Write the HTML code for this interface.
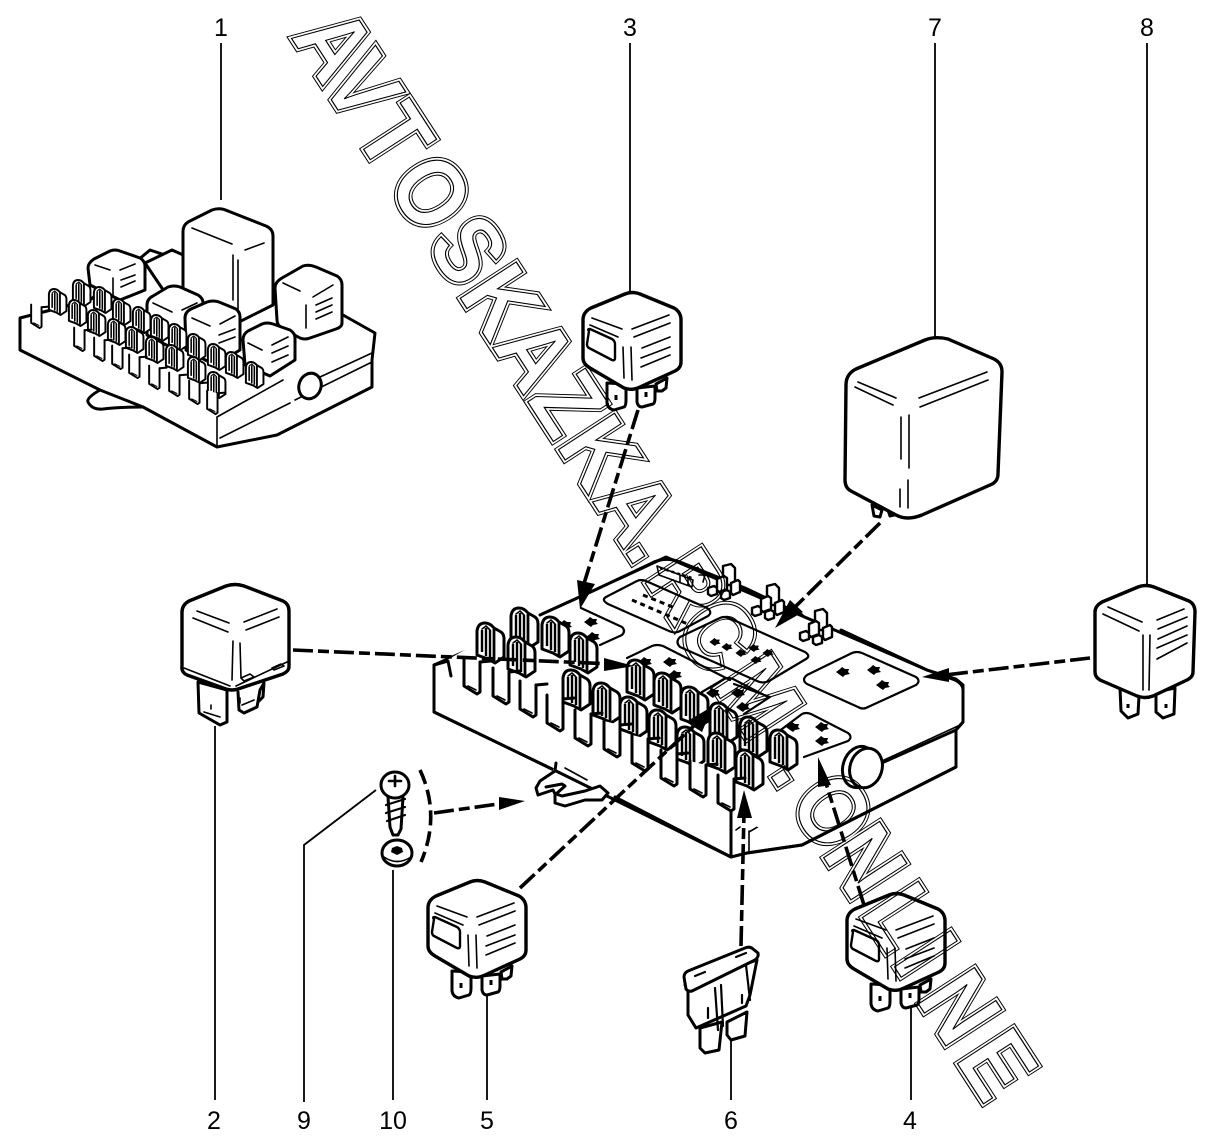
<!DOCTYPE html>
<html><head><meta charset="utf-8"><title>Fuse and relay box</title>
<style>
html,body{margin:0;padding:0;background:#fff}
svg{display:block}
text{font-family:"Liberation Sans",sans-serif}
.o{fill:#fff;stroke:#000;stroke-width:3;stroke-linejoin:round;stroke-linecap:round}
.n{fill:none;stroke:#000;stroke-width:3;stroke-linejoin:round;stroke-linecap:round}
.t{fill:none;stroke:#000;stroke-width:1.6;stroke-linecap:round;stroke-linejoin:round}
.l{fill:none;stroke:#000;stroke-width:1.8}
.d{fill:none;stroke:#000;stroke-width:3.6;stroke-dasharray:20 5 11 5}
.lab{font-size:25px;text-anchor:middle;fill:#000}
.wm{font-size:97px;font-weight:bold;fill:none;stroke-linejoin:miter;stroke-miterlimit:3}
</style></head><body>
<svg width="1215" height="1146" viewBox="0 0 1215 1146" xmlns="http://www.w3.org/2000/svg">
<defs>
<g id="clip">
<path class="o" d="M-14,12V-12Q-13,-20 -6,-20Q-1,-20 3,-15L10,-11Q13,-9 13,-4V14L4,20L-3,16Z"/>
<path fill="none" stroke="#000" stroke-width="2.4" d="M-9,-13V9M-5,-15V13M-1,-13V15"/>
<path fill="none" stroke="#000" stroke-width="2.8" d="M3,-14V18"/>
<path class="t" d="M-9,-14L-5,-17L-1,-13"/>
</g>
<g id="slot">
<path class="o" d="M-9,-19V9L4,17L7,15V-15"/>
<path class="n" d="M7,-15L18,-16"/>
<path class="t" d="M-5,9L3,13"/>
</g>
<g id="star"><path d="M-7,0L-3,-3L-1,-5L2,-3L6,-3L5,0L7,2L2,3L0,5L-3,3Z" fill="#000"/></g>
<g id="rel">
<path class="o" d="M607,383L607,403Q608,409 614,410L624,407Q626,406 626,400V384ZM637,388V402Q638,407 642,407L653,404Q655,403 655,398V386ZM656,384L657,391L662,391L666,388L667,378Z"/>
<path class="o" style="stroke-width:3.4" d="M583,320Q583,312 591,308L625,294Q632,291 640,294L674,308Q681,312 681,320L681,362Q681,368 675,371L640,387Q632,391 624,388L590,368Q583,364 583,358Z"/>
<path class="n" style="stroke-width:2.4" d="M589,331Q587,329 590,329L612,339Q615,341 615,344L615,358Q615,361 612,360L589,348Q587,347 587,344Z"/>
<path class="t" d="M592,318L622,329M590,325L618,337M632,329L669,315M634,337L670,323M642,348L670,337M641,358L670,347M641,367L670,355M631,347L632,380M623,347L624,378"/>
<path d="M616,395v5M646,392v5" stroke="#000" stroke-width="3"/>
</g>
<mask id="wmring" maskUnits="userSpaceOnUse" x="0" y="0" width="1215" height="1146">
<rect x="0" y="0" width="1215" height="1146" fill="#000"/>
<g transform="translate(288,33) rotate(57) scale(.88,1)">
<text class="wm" stroke="#fff" stroke-width="7" x="5 65 135 203 286 353 424 497 558 633 699 739 805 883 1002 1041 1111 1192 1259 1309 1390" y="0">AVTOSKAZKA.RCM.ONLINE</text>
<text class="wm" style="fill:#000" stroke="#000" stroke-width="5" x="5 65 135 203 286 353 424 497 558 633 699 739 805 883 1002 1041 1111 1192 1259 1309 1390" y="0">AVTOSKAZKA.RCM.ONLINE</text>
</g>
</mask>
</defs>
<rect width="1215" height="1146" fill="#fff"/>

<!-- leader lines -->
<path class="l" d="M221,43V200M630,43V291M935,43V338M1147,43V584M215,726V1100M304,1102V845L376,790M393,870V1100M487,996V1100M731,1040V1100M911,1008V1100"/>

<!-- assembly 1 -->
<path class="o" d="M20,318L20,350L100,390L143,407L217,447L277,435L372,387L372,360L375,333L343,315L150,250L90,300Z"/>
<path class="t" d="M217,417L217,445M217,417L283,380M320,377L372,353M220,438L290,403M372,362L295,400"/>
<path class="n" d="M100,390Q86,398 88,402Q92,410 103,409Q120,407 143,407"/>
<path class="o" d="M145,263L172,250L190,258L190,290L170,300Z"/>
<path class="o" d="M183,232Q183,224 190,221L212,210Q220,207 228,211L266,226Q273,229 273,236V305L233,325L183,300Z"/>
<path class="t" d="M192,228L232,244M245,250L264,243M238,260V315M233,255V300"/>
<path class="o" d="M275,288Q275,282 282,278L303,266Q309,264 316,267L337,276Q342,279 342,285V323Q342,327 336,329L310,338Q305,340 300,338L282,328Q277,325 277,320Z"/>
<path class="t" d="M283,283L300,291M313,297L333,285M316,305L332,298M316,312L332,305M316,319L332,312M306,305V328"/>
<path class="o" d="M88,268Q88,263 94,259L110,251Q115,249 120,251L140,258Q145,261 145,266V290L120,300L90,285Z"/>
<path class="t" d="M95,265L110,270M120,270L135,264M121,280L135,275M121,287L135,281M113,278V295"/>
<path class="o" d="M147,305Q147,299 153,296L168,287Q174,285 180,287L198,295Q203,298 203,303V340L176,350L147,335Z"/>
<path class="t" d="M153,303L172,312M182,310L197,303"/>
<path class="o" d="M185,318Q185,312 191,309L207,302Q213,300 219,302L236,309Q240,312 240,317V350L215,365L186,350Z"/>
<path class="t" d="M192,318L210,326M220,324L235,316M219,335L235,329M219,343L235,337"/>
<path class="o" d="M243,340Q243,334 248,331L262,324Q267,322 273,324L290,330Q295,333 295,338V360L270,376L245,365Z"/>
<path class="t" d="M248,343L262,350M272,345L288,337M272,353L288,346M272,362L288,355"/>
<g transform="translate(82,293) scale(.65)"><use href="#clip"/></g>
<g transform="translate(103,300) scale(.65)"><use href="#clip"/></g>
<g transform="translate(122,312) scale(.65)"><use href="#clip"/></g>
<g transform="translate(142,320) scale(.65)"><use href="#clip"/></g>
<g transform="translate(160,328) scale(.65)"><use href="#clip"/></g>
<g transform="translate(178,337) scale(.65)"><use href="#clip"/></g>
<g transform="translate(197,347) scale(.65)"><use href="#clip"/></g>
<g transform="translate(217,357) scale(.65)"><use href="#clip"/></g>
<g transform="translate(235,365) scale(.65)"><use href="#clip"/></g>
<g transform="translate(255,375) scale(.65)"><use href="#clip"/></g>
<g transform="translate(58,302) scale(.65)"><use href="#clip"/></g>
<g transform="translate(78,313) scale(.65)"><use href="#clip"/></g>
<g transform="translate(97,323) scale(.65)"><use href="#clip"/></g>
<g transform="translate(117,332) scale(.65)"><use href="#clip"/></g>
<g transform="translate(135,340) scale(.65)"><use href="#clip"/></g>
<g transform="translate(155,350) scale(.65)"><use href="#clip"/></g>
<g transform="translate(175,358) scale(.65)"><use href="#clip"/></g>
<g transform="translate(197,370) scale(.65)"><use href="#clip"/></g>
<g transform="translate(217,385) scale(.65)"><use href="#clip"/></g>
<g transform="translate(37,317) scale(.65)"><use href="#slot"/></g>
<g transform="translate(80,340) scale(.65)"><use href="#slot"/></g>
<g transform="translate(100,350) scale(.65)"><use href="#slot"/></g>
<g transform="translate(118,358) scale(.65)"><use href="#slot"/></g>
<g transform="translate(135,367) scale(.65)"><use href="#slot"/></g>
<g transform="translate(155,378) scale(.65)"><use href="#slot"/></g>
<g transform="translate(175,385) scale(.65)"><use href="#slot"/></g>
<g transform="translate(195,393) scale(.65)"><use href="#slot"/></g>
<g transform="translate(213,403) scale(.65)"><use href="#slot"/></g>
<ellipse class="o" cx="310" cy="386" rx="11" ry="13" transform="rotate(20 310 386)"/>

<!-- relays -->
<use href="#rel"/>
<use href="#rel" transform="translate(-155,588)"/>
<use href="#rel" transform="translate(264,601)"/>

<!-- relay 7 -->
<path class="o" d="M872,505L874,516L880,517L882,510ZM888,510L890,516L894,515Z"/>
<path class="o" style="stroke-width:3.4" d="M846,385Q846,374 856,369L925,340Q935,336 948,339L994,359Q1002,363 1002,372L998,474Q998,482 990,485L922,515Q907,521 896,515L851,491Q845,488 845,480Z"/>
<path class="t" d="M858,382L896,398M855,387L893,405M919,398L987,372M920,407L988,380M901,417V459M909,415V468M900,489V507M908,480V508"/>

<!-- relay 8 -->
<path class="o" d="M1120,688L1121,711L1128,718L1138,714L1139,696ZM1156,692L1156,712L1163,718L1174,714L1175,688Z"/>
<path d="M1128,704v4M1166,704v4" stroke="#000" stroke-width="3"/>
<path class="o" style="stroke-width:3.4" d="M1095,612Q1095,606 1102,602L1138,587Q1146,584 1154,587L1189,601Q1195,604 1195,612L1193,672Q1193,677 1187,680L1153,696Q1145,699 1137,696L1100,680Q1095,677 1095,672Z"/>
<path class="t" d="M1108,607L1142,622M1103,614L1139,631M1157,620L1184,609M1158,629L1187,617M1158,639L1187,626M1157,648L1187,635M1157,659L1187,643M1143,635V690M1150,635L1149,690"/>

<!-- relay 2 -->
<path class="o" d="M198,682L199,713L220,725L227,722L227,690ZM238,692L239,710L244,713L257,707L260,690L264,683L263,697L258,702"/>
<path class="t" d="M204,712L220,717M211,705v4M240,698v5M242,705L254,700"/>
<path class="o" style="stroke-width:3.4" d="M182,612Q182,605 189,601L226,586Q235,583 244,586L283,601Q289,604 289,611V667Q289,671 283,674L238,689Q232,691 226,689L187,675Q181,672 182,666Z"/>
<path class="t" d="M184,668L230,686M236,686L287,662M197,611L229,623M193,618L228,632M244,622L277,609M246,630L279,617M233,641L232,680M240,643L241,678"/>
<path class="t" d="M244,681L254,677L250,674L241,678ZM274,670L284,666L281,664L272,668Z"/>

<!-- main box -->
<path class="o" d="M434,665V712L554,770L731,857L747,853L802,845L956,767V730L963,722V685L956,679L927,670L666,557L595,590L540,615L480,645Z"/>
<path class="t" d="M958,726L884,760M845,776L749,832M731,797V857M748,806V812M749,831V852M736,830L740,827"/>
<path class="o" style="stroke:none" d="M440,664L500,630L666,561L925,672L957,683L958,720L884,755L760,828L730,815Z"/>
<path class="n" d="M540,615L595,590L650,564Q664,556 680,562L745,588M745,588L802,615M841,630L927,670L955,680Q963,684 963,690V722L956,730V767L802,845L747,853M434,665V712L554,770M615,797L731,857V800M434,665L448,661L451,676M956,730L884,762"/>

<!-- pads -->
<path class="t" style="stroke-width:2.2" d="M606,597L637,581Q641,579 646,581L707,608Q713,612 708,616L680,631Q675,634 669,631L608,604Q601,600 606,597ZM680,637L720,618Q724,616 729,618L805,652Q811,656 806,659L769,681Q763,684 757,681L680,647Q675,642 680,637ZM807,675L852,653Q857,651 862,653L916,677Q921,681 916,685L868,707Q863,710 858,707L807,684Q801,680 807,675ZM581,608L622,627Q626,631 622,635L600,645M627,658L652,646Q657,644 663,646L730,680M734,684L770,697L744,714M702,692L724,679Q728,677 733,679L768,697M778,732L802,714Q806,712 811,714L848,733Q853,737 848,741L804,757"/>
<g transform="translate(843,672)"><use href="#star"/></g><g transform="translate(874,670)"><use href="#star"/></g><g transform="translate(883,685)"><use href="#star"/></g>
<g transform="translate(565,625)"><use href="#star"/></g><g transform="translate(591,622)"><use href="#star"/></g><g transform="translate(593,637)"><use href="#star"/></g>
<g transform="translate(645,662)"><use href="#star"/></g><g transform="translate(670,662)"><use href="#star"/></g><g transform="translate(675,675)"><use href="#star"/></g>
<g transform="translate(713,693)"><use href="#star"/></g><g transform="translate(738,693)"><use href="#star"/></g><g transform="translate(743,707)"><use href="#star"/></g>
<g transform="translate(793,727)"><use href="#star"/></g><g transform="translate(822,727)"><use href="#star"/></g><g transform="translate(822,741)"><use href="#star"/></g>
<g transform="translate(715,642) scale(.8)"><use href="#star"/></g><g transform="translate(727,647) scale(.8)"><use href="#star"/></g><g transform="translate(741,653) scale(.8)"><use href="#star"/></g><g transform="translate(754,648) scale(.8)"><use href="#star"/></g><g transform="translate(756,660) scale(.8)"><use href="#star"/></g><g transform="translate(768,653) scale(.8)"><use href="#star"/></g>
<path fill="none" stroke="#000" stroke-width="3" stroke-dasharray="5 4" d="M632,600L690,625M643,595L675,608"/>
<!-- back connector -->
<path class="t" style="stroke-width:1.6" d="M657,566L693,580L692,587L659,575ZM680,575L680,582M688,578L688,585M699,575H705L703,582"/>
<path fill="none" stroke="#000" stroke-width="2.4" stroke-dasharray="3 3" d="M660,568L692,578"/>

<!-- terminal clusters -->
<g id="tc" transform="translate(729,583)">
<path class="o" style="stroke-width:2.4" d="M-6,-17L2,-19L6,-15V2L-6,2Z"/>
<path class="o" style="stroke-width:2.4" d="M-12,-4L-5,-7L-2,-5V6L-10,9L-12,7ZM2,0L9,-3L11,-1V9L4,12L2,10ZM-21,5L-15,3L-12,5V11L-18,13L-21,11ZM-8,9L-2,7L1,9V15L-5,17L-8,15Z"/>
</g>
<use href="#tc" transform="translate(44,20)"/>
<use href="#tc" transform="translate(92,45)"/>

<!-- clips back row -->
<use href="#clip" x="525" y="628"/><use href="#clip" x="556" y="637"/><use href="#clip" x="584" y="653"/><use href="#clip" x="641" y="680"/><use href="#clip" x="668" y="693"/><use href="#clip" x="695" y="707"/><use href="#clip" x="724" y="723"/><use href="#clip" x="754" y="737"/><use href="#clip" x="784" y="750"/>
<!-- clips front row -->
<use href="#clip" x="491" y="643"/><use href="#clip" x="522" y="657"/><use href="#clip" x="577" y="690"/><use href="#clip" x="607" y="703"/><use href="#clip" x="634" y="717"/><use href="#clip" x="663" y="730"/><use href="#clip" x="691" y="747"/><use href="#clip" x="722" y="753"/><use href="#clip" x="750" y="770"/>
<!-- slots -->
<use href="#slot" x="473" y="677"/><use href="#slot" x="502" y="687"/><use href="#slot" x="529" y="700"/><use href="#slot" x="556" y="714"/><use href="#slot" x="584" y="729"/><use href="#slot" x="613" y="740"/><use href="#slot" x="641" y="754"/><use href="#slot" x="670" y="769"/><use href="#slot" x="699" y="780"/><use href="#slot" x="727" y="794"/>

<!-- knob -->
<ellipse class="o" cx="859" cy="767" rx="16" ry="21" transform="rotate(18 859 767)"/>
<ellipse class="o" cx="866" cy="768" rx="16" ry="20" transform="rotate(18 866 768)"/>
<!-- hook -->
<path class="o" d="M556,763L555,771L540,781L536,788L538,795L553,790L555,794L555,803L565,806L585,800L602,800L608,793L600,786L585,791L562,796L556,794L565,786L562,784L546,787"/>
<path class="t" d="M565,768L587,780"/>

<!-- screw -->
<path class="o" d="M388,797L390,827L393,835L398,835L401,829L403,797Z"/>
<path class="t" style="stroke-width:2.2" d="M386,805L405,799M386,813L405,807M387,821L405,815"/>
<ellipse class="o" cx="395" cy="785" rx="14" ry="13"/>
<path class="t" style="stroke-width:2.6" d="M389,781L401,781M395,776L395,786"/>
<ellipse class="o" cx="397" cy="853" rx="15" ry="13"/>
<path class="t" d="M384,857Q397,866 411,857"/>
<path d="M392,848L397,846L402,848L403,852L397,855L391,852Z" fill="#000"/>

<!-- fuse 6 -->
<path class="o" d="M700,1028L700,1048L705,1053L719,1050L722,1022ZM727,1022L727,1035L731,1040L745,1036L747,1012Z"/>
<path class="o" d="M688,985L688,1015L696,1028L746,1006L750,995L757,960L685,985Z"/>
<path class="o" d="M684,977Q684,973 688,971L745,948Q750,946 753,949L758,953Q759,957 755,960L692,991Q688,992 686,989Z"/>
<path class="t" style="stroke-width:2.2" d="M695,976L705,972M736,957L746,953M715,988L718,1030M721,985L723,1026M746,965L750,1000M708,1008V1018M742,995V1003"/>

<!-- dashed connectors -->
<path class="d" d="M638,410L582,590"/>
<path class="d" d="M880,523L792,610"/>
<path class="d" d="M293,650L612,664"/>
<path class="d" d="M1090,658L945,675"/>
<path class="d" d="M520,888L698,722"/>
<path class="d" d="M741,946L744,812"/>
<path class="d" d="M864,905L825,780"/>
<path class="d" d="M434,813L505,803"/>
<path class="d" d="M420,770Q441,815 421,862" style="stroke-dasharray:15 6"/>

<!-- watermark: outer outline ring plus inner outline -->
<rect x="0" y="0" width="1215" height="1146" fill="#000" mask="url(#wmring)"/>
<g transform="translate(288,33) rotate(57) scale(.88,1)">
<text class="wm" stroke="#000" stroke-width="1.2" x="5 65 135 203 286 353 424 497 558 633 699 739 805 883 1002 1041 1111 1192 1259 1309 1390" y="0">AVTOSKAZKA.RCM.ONLINE</text>
</g>

<!-- arrowheads -->
<path d="M580,609L577,580L595,584Z"/>
<path d="M775,628L790,600L803,612Z"/>
<path d="M634,666L604,658L604,671Z"/>
<path d="M922,677L949,668L949,682Z"/>
<path d="M713,706L686,722L702,732Z"/>
<path d="M744,790L737,818L752,818Z"/>
<path d="M818,757L818,787L831,785Z"/>
<path d="M525,801L499,797L499,810Z"/>

<!-- labels -->
<text class="lab" x="221" y="36">1</text>
<text class="lab" x="630" y="36">3</text>
<text class="lab" x="935" y="36">7</text>
<text class="lab" x="1147" y="36">8</text>
<text class="lab" x="214" y="1129">2</text>
<text class="lab" x="304" y="1129">9</text>
<text class="lab" x="393" y="1129">10</text>
<text class="lab" x="487" y="1129">5</text>
<text class="lab" x="731" y="1129">6</text>
<text class="lab" x="910" y="1129">4</text>
</svg>
</body></html>
